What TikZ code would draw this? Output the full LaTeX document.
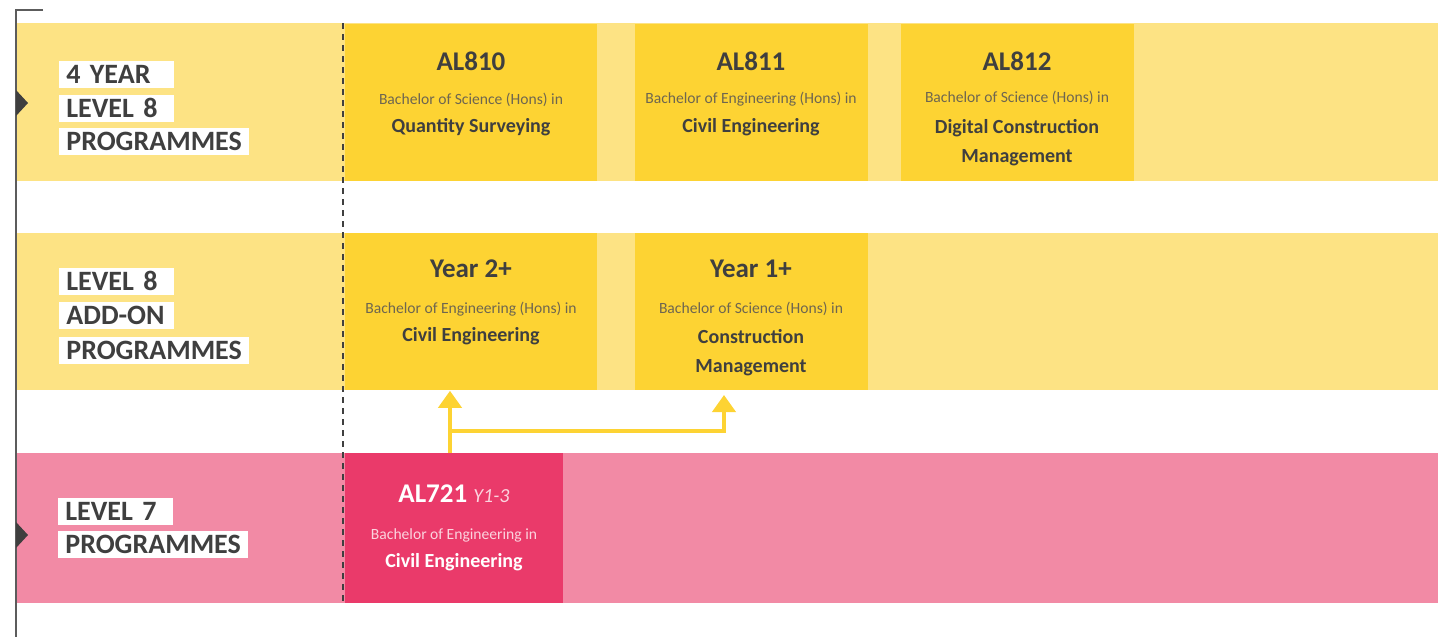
\documentclass[tikz,border=0pt]{standalone}
\usepackage{fontspec}
\setmainfont{Carlito}
\usetikzlibrary{arrows.meta}

\definecolor{bandyellow}{HTML}{FDE384}
\definecolor{boxyellow}{HTML}{FDD333}
\definecolor{bandpink}{HTML}{F28AA5}
\definecolor{boxpink}{HTML}{EA3A6A}
\definecolor{inkgrey}{HTML}{3F3F3F}
\definecolor{subgrey}{HTML}{6E6650}
\definecolor{subpink}{HTML}{FBD3DE}

\newcommand{\tagfont}{\fontsize{14}{16}\selectfont\bfseries\spaceskip=0.2em\relax}

\begin{document}
\begin{tikzpicture}[x=0.5pt,y=-0.5pt,
		band/.style={fill=bandyellow},
		prog/.style={fill=boxyellow, anchor=north west, inner sep=0pt},
		tag/.style={fill=white, anchor=west, inner xsep=3.5pt, inner ysep=0pt, minimum height=13.5pt, align=left, text=inkgrey, font=\tagfont},
		code/.style={text=inkgrey, font=\fontsize{13.5}{16}\selectfont\bfseries},
		degree/.style={text=subgrey, font=\fontsize{7.8}{10}\selectfont},
		subject/.style={text=inkgrey, align=center, font=\fontsize{10}{14.5}\selectfont\bfseries},
		flow/.style={boxyellow, line width=2pt, -{Triangle[width=11.5pt,length=8.5pt]}}]
		
		\useasboundingbox (0,0) rectangle (1448,637);
		
		% rows
		\fill [band] (16,23) rectangle (1438,181);
		\fill [band] (16,233) rectangle (1438,390);
		\fill [bandpink] (16,453) rectangle (1438,603);
		
		% programme boxes
		\node [prog, minimum width=126pt, minimum height=78.5pt] (al810) at (345,24) {};
		\node [prog, minimum width=116.5pt, minimum height=78.5pt] (al811) at (635,24) {};
		\node [prog, minimum width=116.5pt, minimum height=78.5pt] (al812) at (901,24) {};
		\node [prog, minimum width=126pt, minimum height=78.5pt] (year2) at (345,233) {};
		\node [prog, minimum width=116.5pt, minimum height=78.5pt] (year1) at (635,233) {};
		\node [prog, fill=boxpink, minimum width=109pt, minimum height=75pt] (al721) at (345,453) {};
		
		\draw [inkgrey, line width=1pt, dash pattern=on 3pt off 2.5pt] (343,23) -- (343,603);
		
		% axis on the left
		\draw [inkgrey!85, line width=1pt] (43,10) -- (16,10) -- (16,637);
		\fill [inkgrey] (16,90) -- (28,103) -- (16,116) -- cycle;
		\fill [inkgrey] (16,522) -- (28,535) -- (16,548) -- cycle;
		
		\node [tag, text width=50.5pt] (t1a) at (59,74) {4 YEAR};
		\node [tag, text width=50.5pt] (t1b) at (59,108) {LEVEL 8};
		\node [tag] (t1c) at (59,141.5) {PROGRAMMES};
		\node [tag, text width=50.5pt] (t2a) at (59,281) {LEVEL 8};
		\node [tag, text width=50.5pt] (t2b) at (59,315) {ADD-ON};
		\node [tag] (t2c) at (59,350) {PROGRAMMES};
		\node [tag, text width=50.5pt] (t3a) at (58,511) {LEVEL 7};
		\node [tag] (t3b) at (58,544) {PROGRAMMES};
		
		% texts in the boxes
		\node [code] at (471,61) {AL810};
		\node [degree] at (471,100) {Bachelor of Science (Hons) in};
		\node [subject] at (471,127) {Quantity Surveying};
		
		\node [code] at (751,61) {AL811};
		\node [degree] at (751,99) {Bachelor of Engineering (Hons) in};
		\node [subject] at (751,127) {Civil Engineering};
		
		\node [code] at (1017,61) {AL812};
		\node [degree] at (1017,98) {Bachelor of Science (Hons) in};
		\node [subject, anchor=north] at (1017,112) {Digital Construction\\Management};
		
		\node [code] at (471,269) {Year 2+};
		\node [degree] at (471,309) {Bachelor of Engineering (Hons) in};
		\node [subject] at (471,336) {Civil Engineering};
		
		\node [code] at (751,269) {Year 1+};
		\node [degree] at (751,309) {Bachelor of Science (Hons) in};
		\node [subject, anchor=north] at (751,322) {Construction\\Management};
		
		\node [code, text=white] at (454,494) {AL721 {\fontsize{10}{12}\selectfont\mdseries\itshape\color{subpink} Y1-3}};
		\node [degree, text=subpink] at (454,535) {Bachelor of Engineering in};
		\node [subject, text=white] at (454,562) {Civil Engineering};
		
		% routes into level 8
		\coordinate (fork) at (450,431);
		\coordinate (entry) at (724,395);
		\draw [flow] (al721.north -| fork) -- (year2.south -| fork);
		\draw [flow] (fork) -| (entry);
	\end{tikzpicture}
\end{document}
